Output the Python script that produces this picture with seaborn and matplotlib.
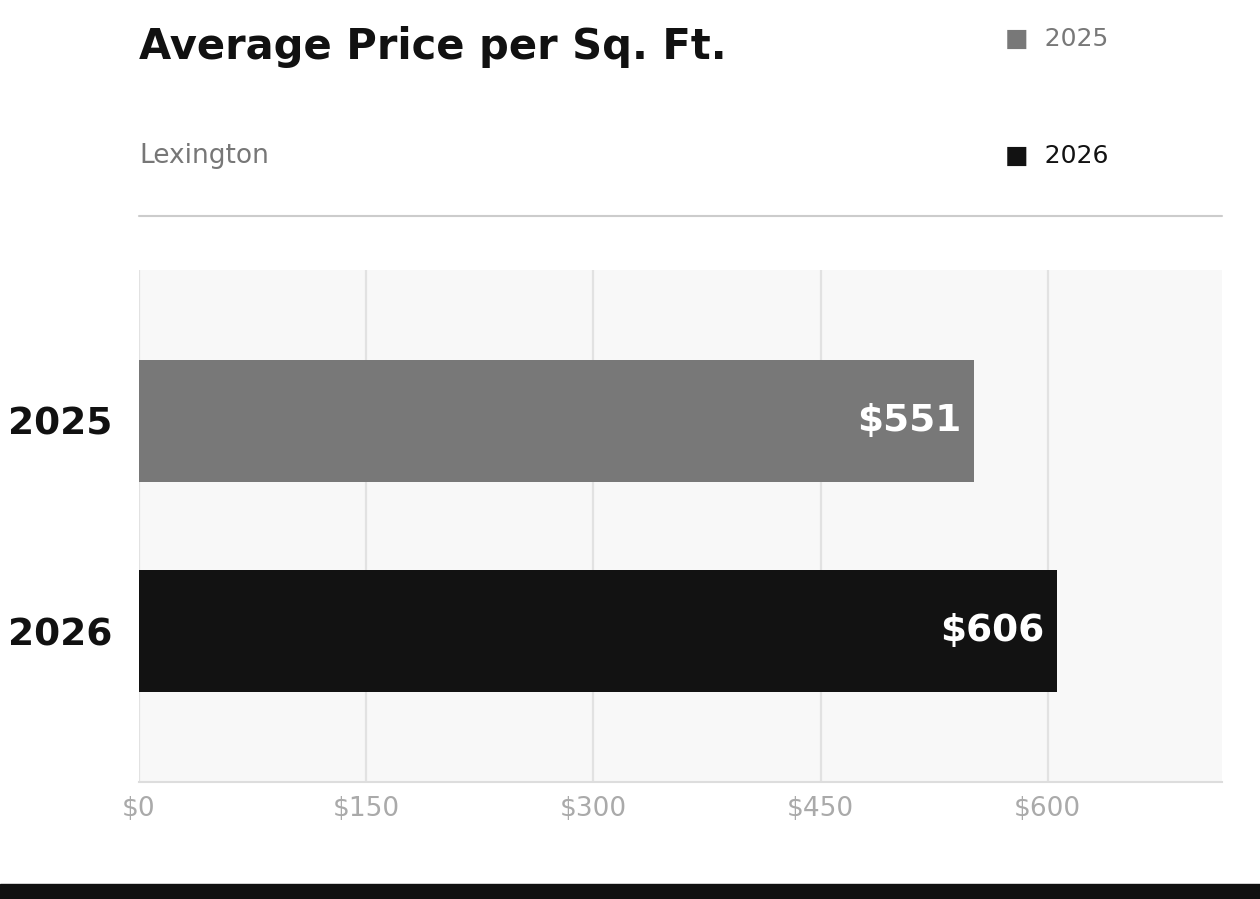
import matplotlib
matplotlib.use("Agg")
import matplotlib.pyplot as plt
import seaborn as sns
import pandas as pd

# data
years = ["2025", "2026"]
prices = [551, 606]
bar_colors = ["#787878", "#121212"]
x_ticks = [0, 150, 300, 450, 600]

sns.set_theme(style="white")
plt.rcParams['font.family'] = ['DejaVu Sans']

W, H = 1260, 899
fig = plt.figure(figsize=(W / 100, H / 100), dpi=100)
ax = fig.add_axes([139 / W, 1 - 782 / H, 1083 / W, 512 / H])
ax.set_facecolor("#f8f8f8")

df = pd.DataFrame({"year": years, "price": prices})
sns.barplot(data=df, x="price", y="year", hue="year", palette=bar_colors,
            orient="h", width=0.58, saturation=1, legend=False, ax=ax,
            linewidth=0, zorder=3)

ax.set_xlim(0, 715)
ax.set_ylim(1.719, -0.719)
ax.set_xticks(x_ticks)
ax.set_xticklabels([f"${v}" for v in x_ticks])
ax.xaxis.grid(True, color="#e2e2e2", linewidth=1.6, zorder=0)
ax.set_axisbelow(True)
ax.set_xlabel("")
ax.set_ylabel("")
ax.tick_params(axis="x", length=0, pad=10, labelsize=19, labelcolor="#aaaaaa")
ax.tick_params(axis="y", length=0, pad=19, labelsize=27)
for lbl in ax.get_yticklabels():
    lbl.set_fontweight("bold")
    lbl.set_color("#111111")

for s in ["top", "right", "left"]:
    ax.spines[s].set_visible(False)
ax.spines["bottom"].set_color("#dddddd")
ax.spines["bottom"].set_linewidth(1.5)

for i, v in enumerate(prices):
    ax.annotate(f"${v}", xy=(v, i), xytext=(-9, 0), textcoords="offset points",
                ha="right", va="center", color="white", fontsize=27,
                fontweight="bold", zorder=5)

# header
fig.text(139 / W, 1 - 47 / H, "Average Price per Sq. Ft.", fontsize=30,
         fontweight="bold", color="#111111", va="center", ha="left")
fig.text(139 / W, 1 - 156 / H, "Lexington", fontsize=19, color="#777777",
         va="center", ha="left")
fig.text(1005 / W, 1 - 39 / H, "■  2025", fontsize=18, color="#787878",
         va="center", ha="left")
fig.text(1005 / W, 1 - 156 / H, "■  2026", fontsize=18, color="#121212",
         va="center", ha="left")
fig.add_artist(plt.Line2D([139 / W, 1222 / W], [1 - 216 / H, 1 - 216 / H],
                          color="#cccccc", linewidth=1.5))

# footer bar
fig.add_artist(plt.Rectangle((0, 0), 1, 15 / H, color="#111111",
                             transform=fig.transFigure))

fig.savefig("out.png", dpi=100)
